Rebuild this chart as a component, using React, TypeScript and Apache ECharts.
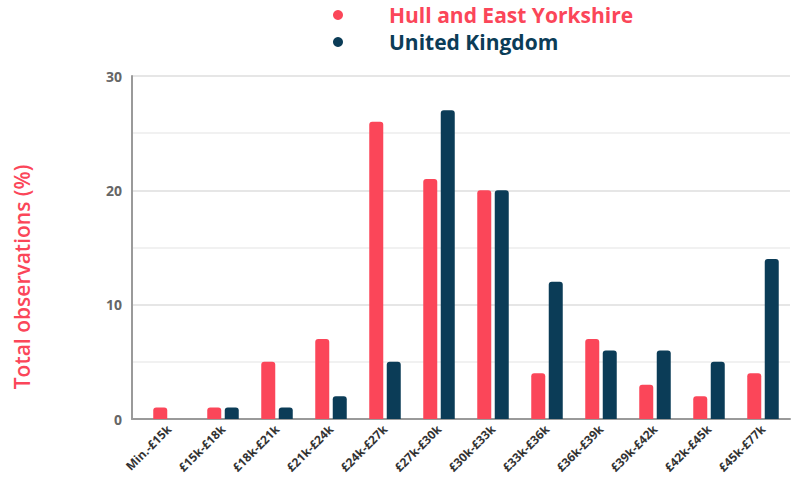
import React, { useEffect, useRef } from "react";
import * as echarts from "echarts";

const categories = [
  "Min.-£15k", "£15k-£18k", "£18k-£21k", "£21k-£24k", "£24k-£27k", "£27k-£30k",
  "£30k-£33k", "£33k-£36k", "£36k-£39k", "£39k-£42k", "£42k-£45k", "£45k-£77k",
];
const hullValues = [1, 1, 5, 7, 26, 21, 20, 4, 7, 3, 2, 4];
const ukValues = [0, 1, 1, 2, 5, 27, 20, 12, 6, 6, 5, 14];
const seriesNames = ["Hull and East Yorkshire", "United Kingdom"];
const yTitle = "Total observations (%)";

const RED = "#FB4659";
const NAVY = "#0B3C57";
const FONT = "'Open Sans', 'Noto Sans', sans-serif";

export default function App() {
  const ref = useRef<HTMLDivElement>(null);
  useEffect(() => {
    if (!ref.current) return;
    const chart = echarts.init(ref.current, null, { renderer: "svg" });
    const top = 76;
    const bottom = 69;
    chart.setOption({
      animation: false,
      backgroundColor: "#ffffff",
      textStyle: { fontFamily: FONT },
      legend: {
        orient: "vertical",
        left: 333,
        top: 4,
        padding: 0,
        icon: "circle",
        itemWidth: 10,
        itemHeight: 10,
        itemGap: 5,
        data: [
          { name: seriesNames[0], textStyle: { color: RED } },
          { name: seriesNames[1], textStyle: { color: NAVY } },
        ],
        textStyle: {
          fontSize: 21,
          lineHeight: 22,
          fontWeight: "bold",
          fontFamily: FONT,
          padding: [0, 0, 0, 41],
        },
      },
      grid: [
        { left: 132, right: 2, top, bottom },
        { left: 142, width: 648, top, bottom },
      ],
      xAxis: [
        {
          gridIndex: 0,
          type: "value",
          min: 0,
          max: 1,
          axisLine: { show: true, lineStyle: { color: "#9a9a9a", width: 2 } },
          axisTick: { show: false },
          axisLabel: { show: false },
          splitLine: { show: false },
        },
        {
          gridIndex: 1,
          type: "category",
          data: categories,
          axisLine: { show: false },
          axisTick: { show: false },
          axisLabel: {
            rotate: 45,
            interval: 0,
            margin: 8,
            fontSize: 12,
            fontWeight: "bold",
            color: "#333333",
            fontFamily: FONT,
          },
        },
      ],
      yAxis: [
        {
          gridIndex: 0,
          type: "value",
          min: 0,
          max: 30,
          interval: 10,
          axisLine: { show: true, lineStyle: { color: "#9a9a9a", width: 2 } },
          axisTick: { show: false },
          axisLabel: {
            fontSize: 14,
            fontWeight: "bold",
            color: "#666666",
            margin: 10,
            fontFamily: FONT,
          },
          splitLine: { show: true, lineStyle: { color: "#e6e6e6", width: 2 } },
          minorTick: { show: false, splitNumber: 2 },
          minorSplitLine: { show: true, lineStyle: { color: "#f1f1f1", width: 2 } },
        },
        {
          gridIndex: 1,
          type: "value",
          min: 0,
          max: 30,
          show: false,
          splitLine: { show: false },
        },
      ],
      series: [
        {
          name: seriesNames[0],
          type: "bar",
          xAxisIndex: 1,
          yAxisIndex: 1,
          data: hullValues,
          barWidth: 14,
          barGap: "25%",
          itemStyle: { color: RED, borderRadius: [3, 3, 0, 0] },
        },
        {
          name: seriesNames[1],
          type: "bar",
          xAxisIndex: 1,
          yAxisIndex: 1,
          data: ukValues,
          barWidth: 14,
          barGap: "25%",
          itemStyle: { color: NAVY, borderRadius: [3, 3, 0, 0] },
        },
      ],
      graphic: [
        {
          type: "text",
          x: 22,
          y: 277,
          rotation: Math.PI / 2,
          style: {
            text: yTitle,
            fill: RED,
            font: `600 21px ${FONT}`,
            textAlign: "center",
            textVerticalAlign: "middle",
          },
        },
      ],
    });
    return () => chart.dispose();
  }, []);
  return <div ref={ref} style={{ width: 792, height: 488, position: "absolute", left: 0, top: 0 }} />;
}
